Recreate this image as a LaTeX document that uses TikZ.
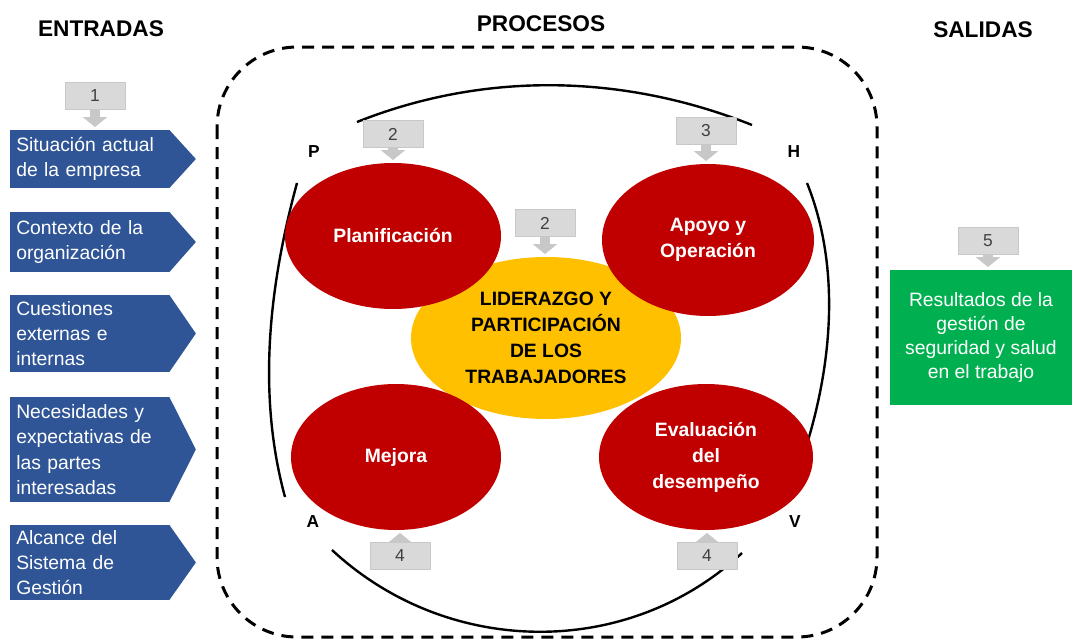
\documentclass[tikz,border=0pt]{standalone}
\usepackage{fontspec}
\setmainfont{Liberation Sans}
\usetikzlibrary{shapes.geometric,arrows.meta}

\definecolor{azul}{HTML}{2F5597}
\definecolor{rojo}{HTML}{C00000}
\definecolor{amarillo}{HTML}{FFC000}
\definecolor{verde}{HTML}{00B050}
\definecolor{gris}{HTML}{D9D9D9}
\definecolor{grisborde}{HTML}{C8C8C8}
\definecolor{textogris}{HTML}{404040}

\tikzset{
  titulo/.style={font=\fontsize{17}{20}\selectfont\bfseries},
  entrada/.style={fill=azul, text=white, anchor=west, align=left, text width=110pt,
    inner xsep=4.5pt, inner ysep=0pt, font=\fontsize{14.5}{19}\selectfont},
  proceso/.style={ellipse, fill=rojo, text=white, align=center, inner sep=0pt,
    font=\fontsize{14.5}{19.5}\selectfont\bfseries},
  numero/.style={fill=gris, draw=grisborde, minimum width=45pt, minimum height=20.25pt,
    inner sep=0pt, text=textogris, font=\fontsize{13}{15}\selectfont},
  flecha/.style={draw=grisborde, line width=7pt, shorten >=2pt,
    -{Triangle[width=18pt,length=7.5pt]}},
  letra/.style={font=\fontsize{13}{15}\selectfont\bfseries},
  ciclo/.style={line width=1.8pt}
}

\begin{document}
\begin{tikzpicture}[x=0.75pt,y=-0.75pt]
		\useasboundingbox (0,0) rectangle (1075,639);
		\fill[white] (0,0) rectangle (1075,639);

		% Titulos
		\node[titulo] (tent) at (101,29) {ENTRADAS};
		\node[titulo] (tpro) at (541,24) {PROCESOS};
		\node[titulo] (tsal) at (983,30) {SALIDAS};

		% Marco
		\draw[line width=2.25pt, dash pattern=on 9pt off 6pt, rounded corners=60pt] (217,47) rectangle (877,637);

		% Ciclo PHVA
		\draw[ciclo] (357,122) .. controls (485,71) and (624,74) .. (752,125);
		\draw[ciclo] (807,183) .. controls (846,280) and (829,395) .. (790,492);
		\draw[ciclo] (742,553) .. controls (627,660) and (447,657) .. (332,550);
		\draw[ciclo] (285,497) .. controls (257,394) and (269,286) .. (297,183);
		\node[letra] (lp) at (314,152) {P};
		\node[letra] (lh) at (794,152) {H};
		\node[letra] (la) at (313,522) {A};
		\node[letra] (lv) at (795,522) {V};

		% Procesos
		\node[ellipse, fill=amarillo, minimum width=202.5pt, minimum height=121.5pt, inner sep=0pt, align=center,
			font=\fontsize{14.5}{19.5}\selectfont\bfseries] (lider) at (546,338)
			{LIDERAZGO Y\\PARTICIPACIÓN\\DE LOS\\TRABAJADORES};
		\node[proceso, minimum width=162pt, minimum height=109.5pt] (plan) at (393,236) {Planificación};
		\node[proceso, minimum width=159pt, minimum height=114pt] (apoyo) at (708,240) {Apoyo y\\Operación};
		\node[proceso, minimum width=157.5pt, minimum height=109.5pt] (mejora) at (396,457) {Mejora};
		\node[proceso, minimum width=160.5pt, minimum height=109.5pt] (eval) at (706,457) {Evaluación\\del\\desempeño};

		% Entradas
		\foreach \n/\y/\h/\txt in {
			1/159/43.5/{Situación actual\\de la empresa},
			2/242/45/{Contexto de la\\organización},
			3/333.5/57.75/{Cuestiones\\externas e\\internas},
			4/449.5/78.75/{Necesidades y\\expectativas de\\las partes\\interesadas},
			5/562.5/56.25/{Alcance del\\Sistema de\\Gestión}}{
			\node[entrada, minimum height=\h pt] (in\n) at (10,\y) {\txt};
			\fill[azul] (in\n.north east) -- ([xshift=20pt]in\n.east) -- (in\n.south east) -- cycle;
		}

		% Salida
		\node[fill=verde, text=white, minimum width=136.5pt, minimum height=101.25pt, inner sep=0pt, align=center,
			font=\fontsize{14.5}{18}\selectfont] (salida) at (981,337.5)
			{Resultados de la\\gestión de\\seguridad y salud\\en el trabajo};

		% Numeros
		\foreach \n/\x/\y/\num in {g1/95/96/1, g2a/393/134/2, g3/706/131/3, g2b/545/223/2, g5/988/241/5, g4a/400/556/4, g4b/707/556/4}
			\node[numero] (\n) at (\x,\y) {\num};
		\foreach \a/\b in {g1/in1, g2a/plan, g3/apoyo, g2b/lider, g5/salida}
			\draw[flecha] (\a.south) -- (\a.south |- \b.north);
		\foreach \a/\b in {g4a/mejora, g4b/eval}
			\draw[flecha] (\a.north) -- (\a.north |- \b.south);
\end{tikzpicture}
\end{document}
